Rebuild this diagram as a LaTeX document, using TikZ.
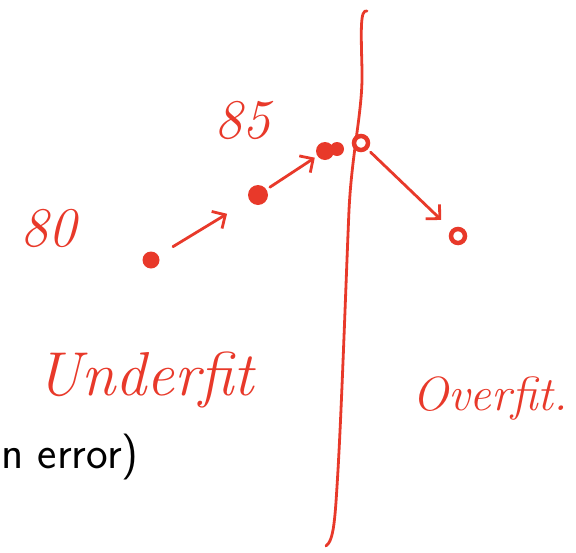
\documentclass[tikz,border=0pt]{standalone}
\usepackage{tikz}
\usetikzlibrary{arrows.meta,positioning}
\definecolor{pen}{HTML}{E8392A}
\tikzset{
  % pen strokes of the sketch
  ink/.style    = {draw=pen, line width=2.8pt, line cap=round, line join=round},
  dot/.style    = {circle, fill=pen, inner sep=0pt, minimum size=#1},
  dot/.default  = 17pt,
  ring/.style   = {circle, draw=pen, line width=4.5pt, fill=white, inner sep=0pt, minimum size=14pt},
  pencil/.style = {ink, -{Straight Barb[length=10pt,width=20pt]}},
  scrawl/.style = {text=pen, font=\fontsize{56}{56}\selectfont\itshape, inner sep=0pt},
  prose/.style  = {font=\fontsize{46}{46}\selectfont\sffamily, inner sep=0pt},
}
\begin{document}
\begin{tikzpicture}[x=1pt,y=-1pt]
\useasboundingbox (0,0) rectangle (576,552);
\clip (0,0) rectangle (576,552);
% divider
\draw[ink] (367,11) .. controls (360,9) and (361,30) .. (362,70)
  .. controls (363,110) and (352,150) .. (349,210)
  .. controls (346,280) and (342,400) .. (338,470)
  .. controls (335,520) and (334,540) .. (326,546);
% points
\node[dot=17pt] (p1) at (151,260) {};
\node[dot=20pt] (p2) at (258,195) {};
\node[dot=18pt] (p3) at (325,151) {};
\node[dot=14pt] (p4) at (337,149) {};
\node[ring] (p5) at (361,143) {};
\node[ring] (p6) at (458,236) {};
% steps
\draw[pencil, shorten <=17pt, shorten >=26pt] (p1) -- (p2);
\draw[pencil, shorten <=4pt, shorten >=3pt] (p2) -- (p3);
\draw[pencil, shorten <=4pt, shorten >=14pt] (p5) -- (p6);
% labels
\node[scrawl] (l80) at (48,228) {80};
\node[scrawl] (l85) at (242,120) {85};
\node[scrawl, font=\fontsize{62}{62}\selectfont\itshape, anchor=base west] (under) at (36,395) {Underfit};
\node[scrawl, font=\fontsize{48}{48}\selectfont\itshape, anchor=base west] (over) at (412,410) {Overfit.};
\node[prose, anchor=base west] (err) at (1,468) {n error)};
\end{tikzpicture}
\end{document}
